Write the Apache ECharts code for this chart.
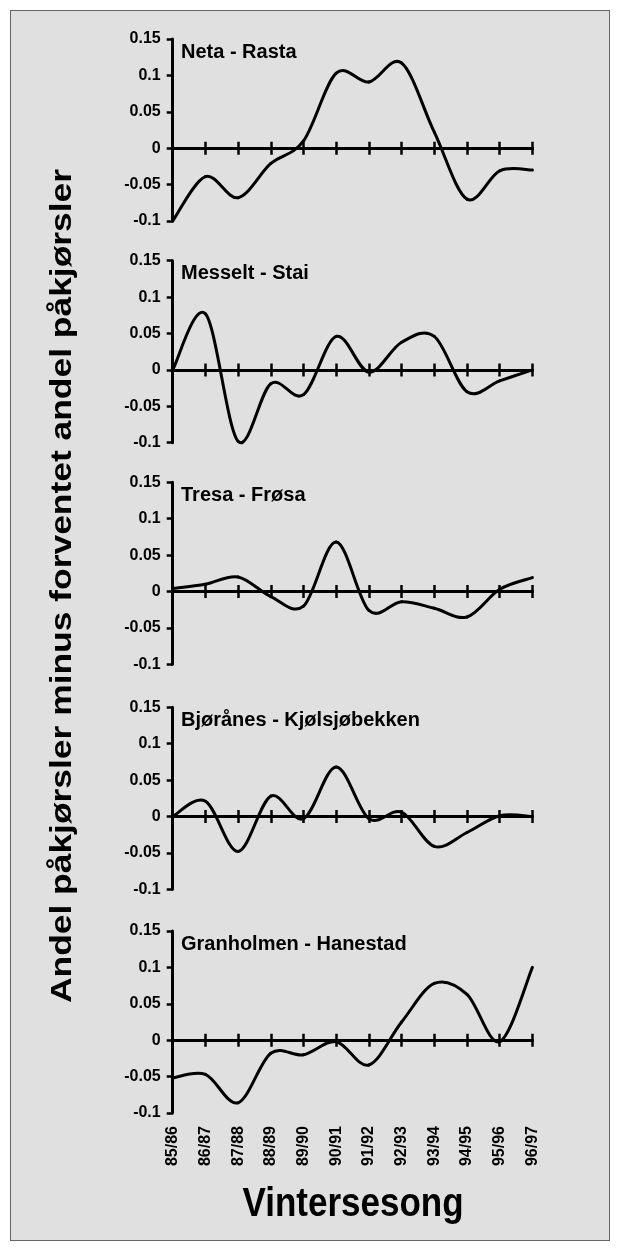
<!DOCTYPE html>
<html><head><meta charset="utf-8">
<script src="https://cdn.jsdelivr.net/npm/echarts@6/dist/echarts.min.js"></script>
<style>
html,body{margin:0;padding:0;background:#fff;}
#frame{position:absolute;left:10px;top:10px;width:598px;height:1229px;background:#e0e0e0;border:1px solid #666;}
#chart{position:absolute;left:0;top:0;width:621px;height:1251px;}
</style></head><body>
<div id="frame"></div><div id="chart"></div>
<script>
const categories = ['85/86','86/87','87/88','88/89','89/90','90/91','91/92','92/93','93/94','94/95','95/96','96/97'];
const netaRasta   = [-0.1, -0.039, -0.068, -0.021, 0.01, 0.103, 0.091, 0.117, 0.022, -0.07, -0.031, -0.03];
const messeltStai = [0, 0.077, -0.098, -0.019, -0.034, 0.046, -0.003, 0.038, 0.046, -0.03, -0.015, 0];
const tresaFrosa  = [0.004, 0.01, 0.02, -0.007, -0.02, 0.068, -0.026, -0.014, -0.023, -0.035, 0.003, 0.019];
const bjoranesKjolsjobekken = [0, 0.021, -0.048, 0.028, -0.003, 0.068, -0.003, 0.006, -0.041, -0.022, 0.001, 0];
const granholmenHanestad = [-0.052, -0.047, -0.086, -0.018, -0.02, -0.002, -0.034, 0.025, 0.078, 0.063, -0.002, 0.1];
const panelNames = ['Neta - Rasta','Messelt - Stai','Tresa - Frøsa','Bjørånes - Kjølsjøbekken','Granholmen - Hanestad'];
const panelSeries = [netaRasta, messeltStai, tresaFrosa, bjoranesKjolsjobekken, granholmenHanestad];
const yMin = -0.1, yMax = 0.15, yInterval = 0.05;
const yTitle = 'Andel påkjørsler minus forventet andel påkjørsler';
const xTitle = 'Vintersesong';

// layout
const FONT = "'Liberation Sans', Arial, sans-serif";
const gridTops = [39, 260.7, 482.3, 707.3, 931];
const gridLeft = 172.7, gridWidth = 359.7, gridHeight = 182;

// smooth (Catmull-Rom style) segment renderer, points placed by the axes via api.coord
function makeRenderItem(vals) {
  const n = vals.length;
  return function (params, api) {
    const j = params.dataIndex;
    if (j >= n - 1) return null;
    const P = k => { const c = Math.max(0, Math.min(n - 1, k)); return api.coord([c, vals[c]]); };
    const p0 = P(j - 1), p1 = P(j), p2 = P(j + 1), p3 = P(j + 2);
    return {
      type: 'bezierCurve',
      shape: {
        x1: p1[0], y1: p1[1], x2: p2[0], y2: p2[1],
        cpx1: p1[0] + (p2[0] - p0[0]) / 6, cpy1: p1[1] + (p2[1] - p0[1]) / 6,
        cpx2: p2[0] - (p3[0] - p1[0]) / 6, cpy2: p2[1] - (p3[1] - p1[1]) / 6
      },
      style: {stroke: '#000', lineWidth: 3, fill: 'none', lineCap: 'round', lineJoin: 'round'}
    };
  };
}

const grid = [], xAxis = [], yAxis = [], series = [], title = [];
gridTops.forEach((t, i) => {
  grid.push({left: gridLeft, top: t, width: gridWidth, height: gridHeight});
  const base = {
    type: 'category', gridIndex: i, data: categories, boundaryGap: false, position: 'bottom',
    axisLine: {show: true, onZero: true, onZeroAxisIndex: i, lineStyle: {color: '#000', width: 3}},
    axisLabel: {show: false, interval: 0},
    splitLine: {show: false}
  };
  xAxis.push(Object.assign({}, base, {axisTick: {show: true, inside: false, length: 6.5, interval: 0, lineStyle: {color: '#000', width: 2.5}}}));
  xAxis.push(Object.assign({}, base, {axisTick: {show: true, inside: true, length: 6.5, interval: 0, lineStyle: {color: '#000', width: 2.5}}}));
  yAxis.push({
    type: 'value', gridIndex: i, min: yMin, max: yMax, interval: yInterval,
    splitLine: {show: false},
    axisLine: {show: true, lineStyle: {color: '#000', width: 3}},
    axisTick: {show: true, length: 6, lineStyle: {color: '#000', width: 2.5}},
    axisLabel: {fontSize: 16, fontWeight: 'bold', color: '#000', margin: 12, fontFamily: FONT}
  });
  const vals = panelSeries[i];
  series.push({
    type: 'custom', coordinateSystem: 'cartesian2d', xAxisIndex: 2 * i, yAxisIndex: i,
    data: vals.map((v, k) => [k, v]), encode: {x: 0, y: 1},
    renderItem: makeRenderItem(vals), clip: false, silent: true, z: 3
  });
  title.push({
    text: panelNames[i], left: 181, top: t + 3, padding: 0,
    textStyle: {fontSize: 20, fontWeight: 'bold', color: '#000', fontFamily: FONT}
  });
});
// label axis for the bottom panel
xAxis.push({
  type: 'category', gridIndex: 4, data: categories, boundaryGap: false, position: 'bottom',
  axisLine: {show: false, onZero: false}, axisTick: {show: false},
  axisLabel: {show: true, interval: 0, rotate: 90, margin: 13, fontSize: 16, fontWeight: 'bold', color: '#000', fontFamily: FONT},
  splitLine: {show: false}
});

const chart = echarts.init(document.getElementById('chart'), null, {renderer: 'canvas'});
chart.setOption({
  backgroundColor: 'transparent',
  animation: false,
  title: title,
  grid: grid,
  xAxis: xAxis,
  yAxis: yAxis,
  series: series,
  graphic: [
    {type: 'text', x: 63, y: 586, rotation: Math.PI / 2, scaleX: 1.18,
     style: {text: yTitle, fill: '#000', font: 'bold 30px ' + FONT, align: 'center', verticalAlign: 'middle', textAlign: 'center', textVerticalAlign: 'middle'}},
    {type: 'text', x: 353, y: 1205, scaleY: 1.14,
     style: {text: xTitle, fill: '#000', font: 'bold 35px ' + FONT, align: 'center', verticalAlign: 'middle', textAlign: 'center', textVerticalAlign: 'middle'}}
  ]
});
</script>
</body></html>
